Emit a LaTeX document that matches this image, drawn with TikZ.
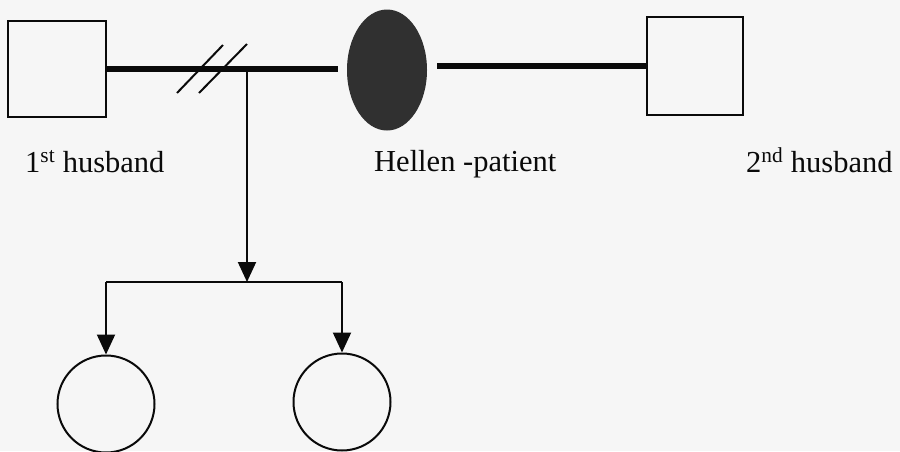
\documentclass[tikz,border=0pt]{standalone}
\usepackage{fontspec}
\setmainfont{Liberation Serif}
\usetikzlibrary{arrows.meta,shapes.geometric}
\definecolor{paper}{HTML}{F6F6F6}
\definecolor{ink}{HTML}{0A0A0A}
\definecolor{patient}{HTML}{303030}
\begin{document}
\begin{tikzpicture}[x=1pt,y=-1pt,
  male/.style={draw=ink,line width=2pt,minimum width=#1,minimum height=96pt,inner sep=0pt},
  female/.style={draw=ink,line width=2pt,circle,minimum size=97pt,inner sep=0pt},
  marriage/.style={draw=ink,line width=5.5pt},
  thin/.style={draw=ink,line width=2pt},
  child/.style={thin,-{Triangle[width=18pt,length=20pt]}},
  lbl/.style={font=\fontsize{30.5}{32}\selectfont,text=ink,anchor=base west,inner sep=0pt}]
\fill[paper] (0,0) rectangle (900,451);
\useasboundingbox (0,0) rectangle (900,451);
% people
\node[male=98pt] (sq1) at (57,69) {};
\node[ellipse,fill=patient,minimum width=80pt,minimum height=121pt,inner sep=0pt] (hel) at (387,70) {};
\node[male=96pt,minimum height=98pt] (sq2) at (695,66) {};
\node[female] (c1) at (106,404) {};
\node[female] (c2) at (342,402) {};
% marriage lines
\draw[marriage,shorten >=9pt] (sq1.east) -- (sq1.east -| hel.west);
\draw[marriage,shorten <=10pt] (hel.east |- sq2.west) -- (sq2.west);
% divorce slashes
\coordinate (s1a) at (177,93); \coordinate (s1b) at (223,45);
\coordinate (s2a) at (199,93); \coordinate (s2b) at (247,44);
\draw[thin] (s1a) -- (s1b);
\draw[thin] (s2a) -- (s2b);
% descent
\coordinate (drop) at (247,69);
\coordinate (bar) at (247,282);
\coordinate (barL) at (106,282);
\coordinate (barR) at (342,282);
\draw[child] (drop) -- (bar);
\draw[thin] (barL) -- (barR);
\draw[child] (barL) -- (c1.north);
\draw[child] (barR) -- (c2.north);
% labels
\node[lbl] (l1) at (25,172) {1\textsuperscript{st} husband};
\node[lbl] (l2) at (374,171) {Hellen -patient};
\node[lbl] (l3) at (746,172) {2\textsuperscript{nd} husband};
\end{tikzpicture}
\end{document}
